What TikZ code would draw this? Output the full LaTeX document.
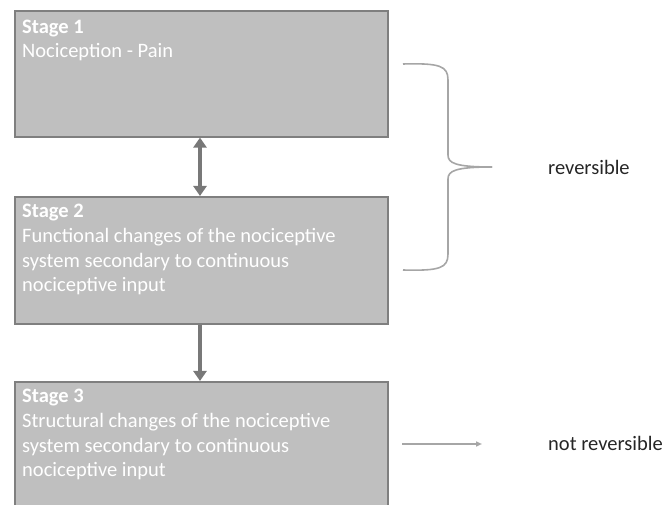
\documentclass[tikz,border=0pt]{standalone}
\usepackage{fontspec}
\setmainfont{Carlito}
\usetikzlibrary{arrows.meta}
\definecolor{boxfill}{HTML}{BFBFBF}
\definecolor{boxline}{HTML}{7F7F7F}
\definecolor{arrowc}{HTML}{787878}
\definecolor{bracec}{HTML}{A6A6A6}
\begin{document}
\begin{tikzpicture}[x=1pt,y=-1pt,
  stagebox/.style={draw=boxline,line width=1.6pt,fill=boxfill,inner sep=0pt,anchor=north west,minimum width=373pt},
  stagetext/.style={anchor=north west,align=left,text=white,font=\fontsize{20.5}{24.7}\selectfont,inner sep=0pt},
  bigarrow/.style={draw=arrowc,line width=3.6pt,-{Triangle[length=10pt,width=13pt]}},
  thinline/.style={draw=bracec,line width=1.6pt},
  label/.style={anchor=base west,text=black!85,font=\fontsize{20.5}{24}\selectfont,inner sep=0pt}]
\useasboundingbox (0,0) rectangle (665,505);
\clip (0,0) rectangle (665,505);
\node[stagebox,minimum height=126pt] (b1) at (14,10) {};
\node[stagebox,minimum height=127pt] (b2) at (14,196) {};
\node[stagebox,minimum height=140pt] (b3) at (14,381) {};
\node[stagetext] (t1) at (22,19.5) {\textbf{Stage 1}\\Nociception - Pain};
\node[stagetext] (t2) at (22,204) {\textbf{Stage 2}\\Functional changes of the nociceptive\\system secondary to continuous\\nociceptive input};
\node[stagetext] (t3) at (22,389) {\textbf{Stage 3}\\Structural changes of the nociceptive\\system secondary to continuous\\nociceptive input};
\draw[bigarrow,{Triangle[length=10pt,width=13pt]}-{Triangle[length=10pt,width=13pt]}] (b1.south -| 200,0) -- (b2.north -| 200,0);
\draw[bigarrow] (b2.south -| 200,0) -- (b3.north -| 200,0);
\coordinate (bt) at (403,64);
\coordinate (bb) at (403,270);
\coordinate (tip) at (492,167);
\draw[thinline] (bt) .. controls (440,63) and (448,66) .. (448,80) -- (448,155) .. controls (448,163) and (455,167) .. (tip);
\draw[thinline] (bb) .. controls (440,271) and (448,268) .. (448,254) -- (448,179) .. controls (448,171) and (455,167) .. (tip);
\node[label] (rev) at (548,175) {reversible};
\coordinate (na) at (402,444);
\coordinate (nb) at (482,444);
\draw[thinline,-{Triangle[length=6pt,width=5pt]}] (na) -- (nb);
\node[label] (nrev) at (548,451) {not reversible};
\end{tikzpicture}
\end{document}
